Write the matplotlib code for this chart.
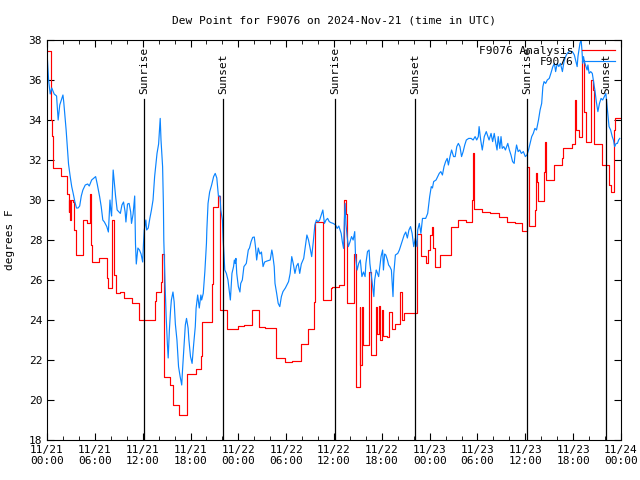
import matplotlib
matplotlib.use("Agg")
import matplotlib.pyplot as plt
from matplotlib.ticker import MultipleLocator

plt.rcParams['font.family'] = ['DejaVu Sans Mono']
plt.rcParams['font.size'] = 8

# hours since 2024-11-21 00:00 UTC
obs_hours = [0.0, 0.2, 0.4, 0.6, 0.9, 1.2, 1.4, 1.6, 1.8, 2.0, 2.1, 2.4, 2.7, 2.9, 3.1, 3.3, 3.5, 3.7,
             3.9, 4.1, 4.3, 4.5, 4.8, 5.1, 5.3, 5.6, 5.9, 6.1, 6.3, 6.6, 6.8, 7.0, 7.2, 7.5, 7.7, 7.9,
             8.0, 8.1, 8.3, 8.5, 8.6, 8.8, 9.2, 9.4, 9.6, 9.8, 9.9, 10.1, 10.3, 10.5, 10.6, 10.8, 11.0,
             11.1, 11.2, 11.4, 11.6, 11.8, 12.0, 12.1, 12.2, 12.4, 12.5, 12.7, 12.9, 13.1, 13.3, 13.5,
             13.8, 14.0, 14.2, 14.3, 14.5, 14.6, 14.65, 14.7, 14.8, 14.95, 15.1, 15.2, 15.35, 15.5,
             15.6, 15.8, 15.95, 16.1, 16.3, 16.5, 16.7, 16.9, 17.0, 17.2, 17.35, 17.5, 17.7, 17.8,
             18.0, 18.2, 18.4, 18.6, 18.7, 18.9, 19.1, 19.3, 19.4, 19.6, 19.8, 20.0, 20.05, 20.2,
             20.4, 20.65, 20.9, 21.1, 21.3, 21.5, 21.7, 21.8, 22.0, 22.1, 22.2, 22.3, 22.5, 22.7,
             22.8, 23.0, 23.1, 23.2, 23.4, 23.5, 23.6, 23.7, 23.8, 24.0, 24.2, 24.3, 24.5, 24.7,
             25.0, 25.25, 25.4, 25.6, 25.8, 26.0, 26.15, 26.3, 26.5, 26.7, 26.9, 27.1, 27.3, 27.6,
             28.0, 28.2, 28.3, 28.5, 28.6, 28.8, 29.0, 29.2, 29.4, 29.6, 29.9, 30.3, 30.5, 30.7,
             30.9, 31.1, 31.3, 31.5, 31.7, 31.9, 32.2, 32.4, 32.6, 32.8, 33.0, 33.2, 33.4, 33.6,
             33.8, 34.0, 34.2, 34.4, 34.6, 34.8, 35.0, 35.2, 35.4, 35.6, 35.9, 36.2, 36.4, 36.6,
             36.9, 37.05, 37.2, 37.3, 37.4, 37.5, 37.65, 37.8, 38.0, 38.2, 38.4, 38.6, 38.7, 38.9,
             39.1, 39.3, 39.5, 39.7, 39.9, 40.0, 40.2, 40.4, 40.5, 40.7, 41.0, 41.1, 41.3, 41.4,
             41.6, 41.9, 42.1, 42.2, 42.35, 42.5, 42.7, 42.85, 43.0, 43.2, 43.4, 43.5, 43.7, 44.0,
             44.2, 44.4, 44.6, 44.8, 45.0, 45.2, 45.4, 45.6, 45.8, 46.0, 46.2, 46.4, 46.5, 46.7,
             46.9, 47.1, 47.3, 47.5, 47.75, 48.0, 48.2, 48.35, 48.5, 48.8, 49.0, 49.2, 49.4, 49.6,
             49.8, 50.0, 50.2, 50.35, 50.55, 50.75, 51.0, 51.2, 51.4, 51.6, 51.8, 52.0, 52.2, 52.4,
             52.6, 52.9, 53.2, 53.45, 53.7, 53.9, 54.1, 54.2, 54.4, 54.6, 54.85, 55.1, 55.3, 55.45,
             55.7, 55.9, 56.1, 56.3, 56.45, 56.6, 56.8, 56.95, 57.1, 57.3, 57.5, 57.8, 58.0, 58.2,
             58.4, 58.6, 58.7, 58.9, 59.1, 59.3, 59.5, 59.75, 60.0, 60.2, 60.4, 60.6, 60.8, 61.0,
             61.2, 61.4, 61.65, 61.85, 62.05, 62.2, 62.35, 62.55, 62.75, 63.0, 63.2, 63.45, 63.65,
             63.8, 64.0, 64.2, 64.4, 64.65, 64.85, 65.05, 65.25, 65.5, 65.7, 65.9, 66.15, 66.3,
             66.5, 66.6, 66.85, 67.0, 67.1, 67.2, 67.3, 67.4, 67.6, 67.75, 67.85, 68.0, 68.2, 68.4,
             68.6, 68.75, 68.9, 69.1, 69.3, 69.5, 69.7, 69.9, 70.1, 70.2, 70.35, 70.5, 70.7, 70.9,
             71.05, 71.2, 71.4, 71.55, 71.7, 71.85]
obs_dewpt = [37.4, 36.0, 35.3, 35.6, 35.3, 35.2, 34.0, 34.75, 35.0, 35.25, 34.9, 33.5, 31.8, 31.2,
             30.67, 30.3, 29.9, 29.6, 29.6, 29.7, 30.2, 30.5, 30.75, 30.8, 30.7, 31.0, 31.1, 31.17,
             30.8, 30.17, 29.67, 29.0, 28.9, 28.67, 28.4, 30.0, 29.5, 29.2, 31.5, 30.67, 30.2, 29.5,
             29.33, 29.75, 29.9, 29.4, 28.9, 29.8, 29.83, 29.4, 28.83, 29.3, 30.2, 27.8, 26.8, 27.6,
             27.5, 27.3, 26.9, 27.8, 28.5, 29.0, 28.5, 28.6, 29.08, 29.5, 30.0, 31.17, 32.33, 32.8,
             34.08, 33.0, 31.67, 29.8, 28.0, 27.3, 25.9, 24.15, 22.8, 22.1, 23.5, 24.5, 25.0, 25.4,
             24.9, 23.8, 23.0, 21.67, 21.17, 20.75, 21.5, 22.8, 23.75, 24.08, 23.6, 23.0, 22.17,
             21.83, 22.8, 23.67, 24.58, 25.25, 24.6, 25.25, 25.0, 25.33, 26.42, 27.83, 28.5, 29.83,
             30.4, 30.75, 31.17, 31.33, 31.1, 30.2, 30.2, 29.5, 29.0, 28.0, 27.2, 26.5, 26.33, 26.0,
             25.67, 25.0, 25.67, 26.33, 26.67, 27.0, 26.83, 27.08, 26.33, 25.67, 25.4, 25.83, 26.0,
             26.67, 26.83, 27.5, 27.6, 27.92, 28.13, 28.15, 27.67, 27.0, 27.6, 27.3, 27.4, 26.67,
             26.9, 26.95, 27.0, 27.5, 27.3, 26.67, 25.83, 25.35, 24.83, 24.67, 25.17, 25.42, 25.6,
             25.92, 26.33, 27.17, 26.8, 26.33, 26.7, 26.83, 26.33, 26.8, 27.08, 27.67, 28.25, 28.0,
             27.6, 27.17, 27.9, 28.75, 29.0, 28.9, 29.0, 29.25, 29.5, 28.83, 29.0, 29.08, 28.92,
             28.87, 28.83, 28.75, 28.58, 28.7, 28.33, 27.9, 27.58, 29.0, 29.83, 28.8, 28.17, 27.67,
             27.9, 28.17, 28.0, 28.42, 27.17, 26.5, 26.83, 27.0, 26.17, 26.4, 26.17, 26.83, 27.42,
             27.5, 26.83, 26.17, 25.17, 26.0, 26.5, 26.4, 26.17, 27.17, 27.5, 26.5, 27.3, 27.25,
             27.0, 26.75, 26.67, 26.5, 25.17, 26.33, 27.25, 27.33, 27.5, 27.75, 28.0, 28.25, 28.4,
             28.1, 28.5, 28.67, 28.33, 27.67, 28.08, 27.67, 28.5, 28.83, 28.33, 29.08, 29.08, 29.08,
             29.33, 30.17, 30.67, 30.6, 30.92, 31.0, 31.17, 31.33, 31.42, 31.25, 31.67, 31.92, 32.08,
             31.75, 32.17, 32.5, 32.17, 32.17, 32.67, 32.83, 32.67, 32.17, 32.42, 32.75, 33.0, 33.08,
             33.08, 33.0, 33.17, 33.0, 33.17, 33.67, 33.0, 32.5, 33.17, 33.42, 33.17, 33.0, 33.33,
             32.92, 33.33, 32.83, 32.5, 33.17, 32.58, 33.17, 32.58, 32.67, 32.5, 32.83, 32.5, 32.25,
             31.92, 31.83, 32.25, 32.75, 32.42, 32.5, 32.33, 32.42, 32.17, 32.25, 32.5, 32.83, 33.17,
             33.33, 33.58, 33.5, 34.0, 34.5, 34.83, 35.67, 35.92, 35.83, 36.0, 36.08, 36.33, 36.67,
             36.83, 36.42, 36.83, 36.67, 36.83, 36.42, 36.92, 37.17, 37.33, 37.42, 37.42, 37.42,
             37.25, 37.0, 36.67, 37.17, 37.83, 38.0, 37.5, 36.83, 37.17, 36.92, 36.67, 36.5, 36.75,
             36.33, 36.42, 36.33, 35.83, 35.42, 34.92, 34.42, 34.83, 35.08, 35.0, 35.17, 35.33,
             34.92, 34.33, 33.67, 33.5, 33.17, 33.0, 32.67, 32.83, 32.83, 33.0, 33.08]

anl_hours = [0.0, 0.45, 0.5, 0.6, 0.7, 1.7, 2.5, 2.7, 2.8, 2.9, 3.0, 3.2, 3.4, 3.6, 4.5, 5.0, 5.4,
             5.5, 5.6, 6.5, 7.5, 7.7, 8.1, 8.45, 8.6, 9.2, 9.6, 10.6, 11.5, 11.6, 13.5, 13.7, 14.3,
             14.45, 14.65, 14.7, 15.4, 15.8, 16.6, 17.5, 18.7, 19.3, 19.4, 20.7, 20.85, 21.4, 21.75,
             22.6, 23.9, 24.7, 25.7, 26.6, 27.3, 28.7, 29.8, 30.75, 31.8, 32.7, 33.55, 33.65, 34.6,
             35.6, 35.8, 36.6, 37.3, 37.55, 37.65, 38.45, 38.8, 39.2, 39.3, 39.45, 39.6, 40.35,
             40.6, 41.25, 41.4, 41.6, 41.8, 42.0, 42.2, 42.6, 42.9, 43.3, 43.6, 44.3, 44.5, 44.8,
             46.45, 46.9, 47.5, 47.8, 48.0, 48.3, 48.45, 48.65, 49.25, 50.7, 51.55, 52.6, 53.3,
             53.4, 53.6, 54.55, 55.6, 56.65, 57.7, 58.65, 59.55, 60.25, 60.5, 61.2, 61.3, 61.45,
             61.6, 62.35, 62.45, 62.6, 63.55, 64.6, 64.75, 65.8, 66.2, 66.35, 66.75, 67.05, 67.15,
             67.35, 67.55, 68.25, 68.45, 68.65, 69.65, 70.55, 70.75, 71.15, 71.3, 71.85]
anl_dewpt = [37.45, 36.0, 34.0, 33.2, 31.6, 31.2, 30.3, 29.4, 30.0, 29.0, 30.0, 29.9, 28.5, 27.25,
             29.0, 28.85, 30.3, 27.75, 26.9, 27.1, 26.1, 25.6, 29.0, 26.25, 25.33, 25.4, 25.08,
             24.87, 24.5, 24.0, 24.95, 25.4, 25.9, 27.3, 22.75, 21.15, 20.75, 19.75, 19.25, 21.3,
             21.55, 22.2, 23.9, 25.8, 29.67, 30.2, 24.5, 23.55, 23.7, 23.75, 24.5, 23.65, 23.6,
             22.1, 21.9, 21.95, 22.8, 23.55, 24.9, 28.9, 25.0, 25.6, 25.65, 25.75, 30.0, 29.3,
             24.85, 27.3, 20.67, 24.67, 21.75, 24.67, 22.75, 26.4, 22.25, 24.63, 23.3, 24.7, 23.0,
             24.5, 23.2, 23.15, 24.4, 23.55, 23.8, 25.4, 24.0, 24.33, 28.3, 27.2, 26.85, 27.5,
             28.25, 28.67, 27.6, 26.67, 27.25, 28.67, 29.0, 28.9, 30.0, 32.33, 29.53, 29.38, 29.33,
             29.17, 28.92, 28.83, 28.47, 31.67, 28.7, 29.5, 31.33, 30.9, 29.95, 31.4, 32.9, 31.0,
             31.75, 32.1, 32.6, 32.8, 35.0, 33.5, 33.17, 36.0, 37.0, 34.4, 32.9, 36.0, 35.5, 32.8,
             31.75, 30.75, 30.4, 33.5, 34.08, 34.08]

sun_hours = [12.2, 22.08, 36.17, 46.2, 60.25, 70.12]
sun_labels = ["Sunrise", "Sunset", "Sunrise", "Sunset", "Sunrise", "Sunset"]

tick_hours = [0, 6, 12, 18, 24, 30, 36, 42, 48, 54, 60, 66, 72]
tick_labels = ["11/21\n00:00", "11/21\n06:00", "11/21\n12:00", "11/21\n18:00",
               "11/22\n00:00", "11/22\n06:00", "11/22\n12:00", "11/22\n18:00",
               "11/23\n00:00", "11/23\n06:00", "11/23\n12:00", "11/23\n18:00",
               "11/24\n00:00"]

fig = plt.figure(figsize=(6.4, 4.8), dpi=100)
ax = fig.add_axes([47 / 640, 40 / 480, 574 / 640, 400 / 480])

ax.plot(anl_hours, anl_dewpt, color='#ff0000', lw=0.85, drawstyle='steps-post',
        label='F9076 Analysis')
ax.plot(obs_hours, obs_dewpt, color='#0a84ff', lw=0.85, label='F9076')

for h, lab in zip(sun_hours, sun_labels):
    ax.plot([h, h], [18, 35.05], color='black', lw=0.9)
    ax.text(h, 35.3, lab, rotation=90, ha='center', va='bottom', fontsize=8)

ax.set_xlim(0, 72)
ax.set_ylim(18, 38)
ax.set_xticks(tick_hours)
ax.set_xticklabels(tick_labels)
ax.xaxis.set_minor_locator(MultipleLocator(2))
ax.set_yticks(range(18, 39, 2))
ax.tick_params(which='both', direction='in', top=True, right=True)
ax.tick_params(which='major', length=5)
ax.tick_params(which='minor', length=3)
ax.set_ylabel('degrees F', labelpad=10)
ax.set_title('Dew Point for F9076 on 2024-Nov-21 (time in UTC)', fontsize=8, pad=12)

ax.legend(loc='upper right', frameon=False, markerfirst=False, handlelength=3,
          borderaxespad=0.1, labelspacing=0.15, fontsize=8)

fig.savefig('out.png', dpi=100)
